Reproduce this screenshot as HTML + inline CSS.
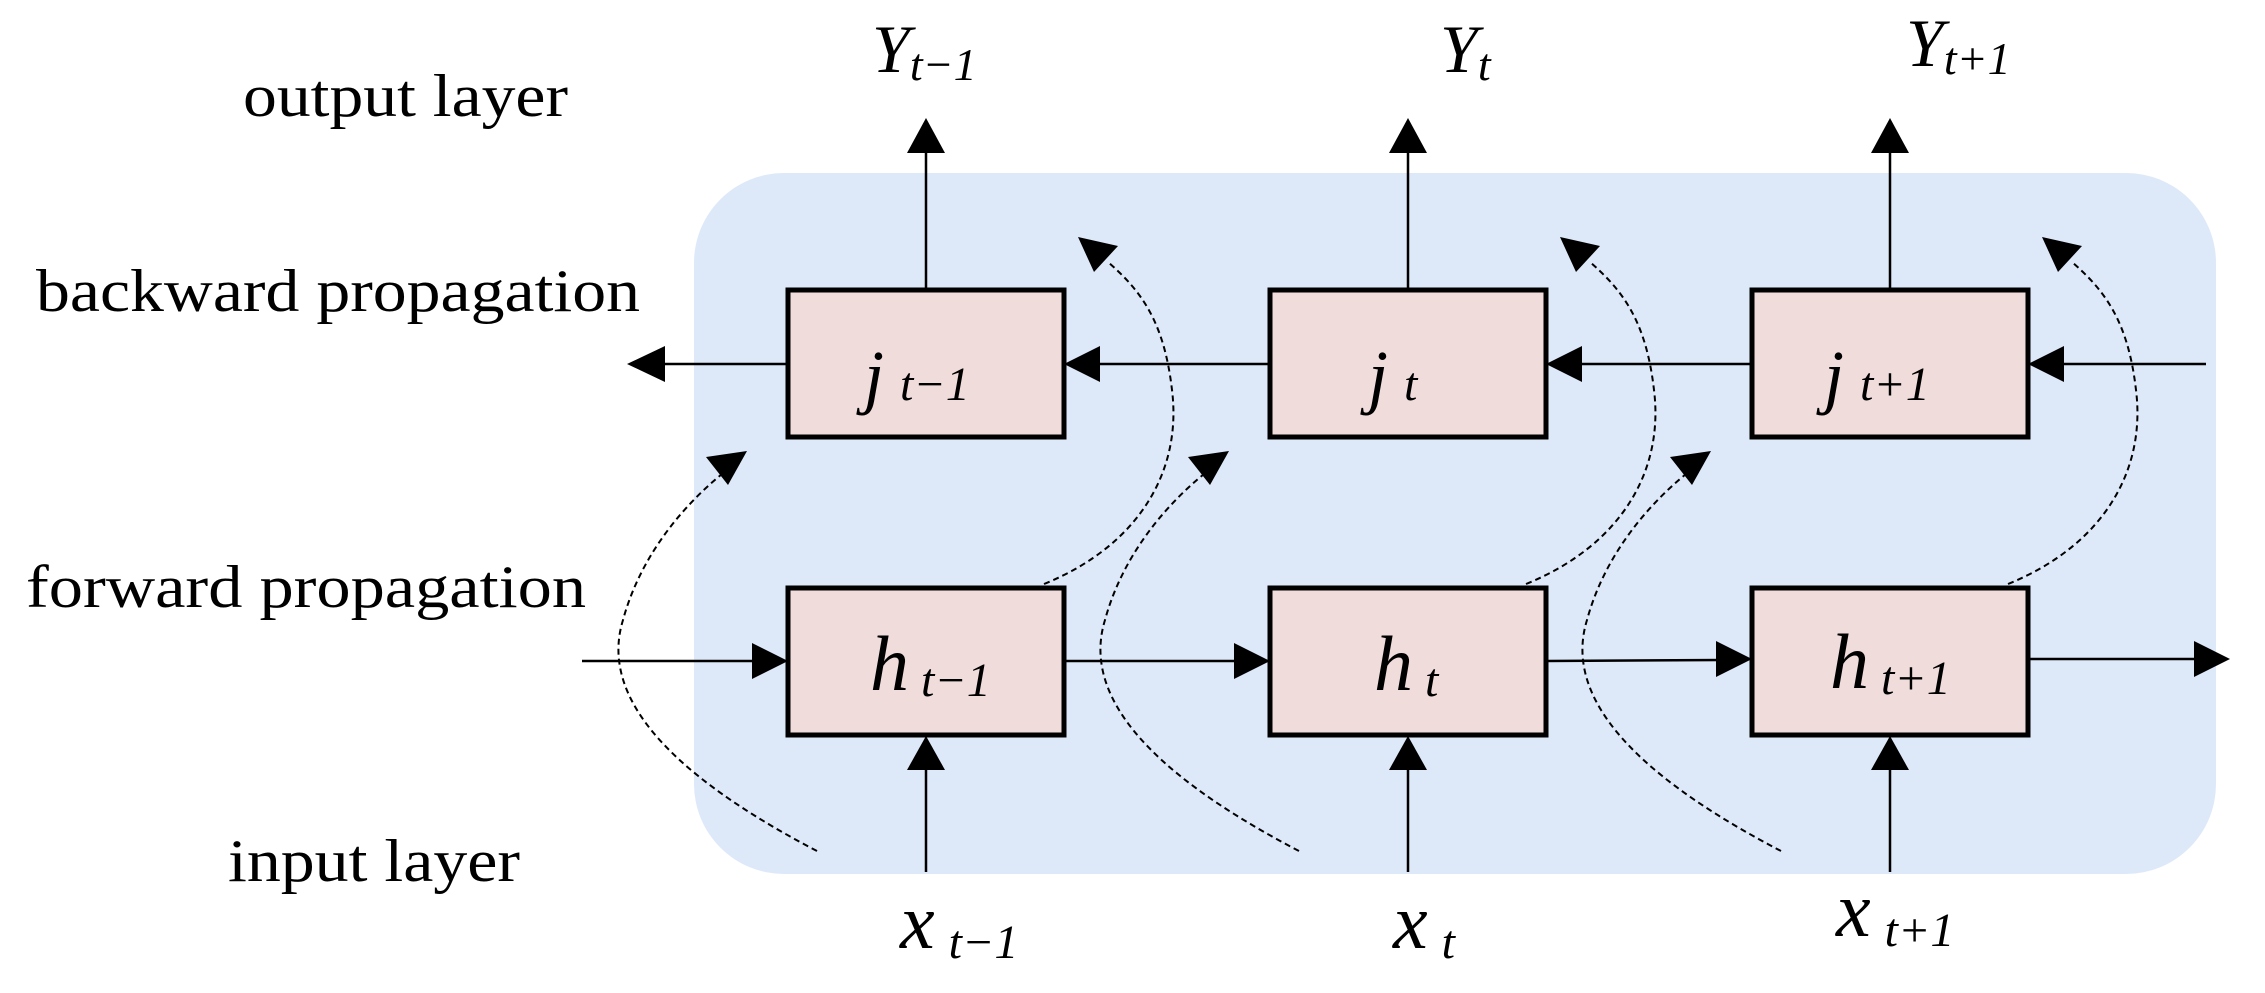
<!DOCTYPE html>
<html><head><meta charset="utf-8"><style>html,body{margin:0;padding:0;background:#fff}svg{display:block}</style></head>
<body>
<svg width="2265" height="993" viewBox="0 0 2265 993" xmlns="http://www.w3.org/2000/svg" font-family="Liberation Serif, serif">
<defs>
<g id="col">
  <rect x="788" y="290" width="276" height="147" fill="#f0dcdb" stroke="#000" stroke-width="5"/>
  <rect x="788" y="588" width="276" height="147" fill="#f0dcdb" stroke="#000" stroke-width="5"/>
  <line x1="926" y1="288" x2="926" y2="150" stroke="#000" stroke-width="2.5"/>
  <polygon points="926,118 907,153 945,153" fill="#000"/>
  <line x1="926" y1="872" x2="926" y2="765" stroke="#000" stroke-width="2.5"/>
  <polygon points="926,736 907,770 945,770" fill="#000"/>
  <path d="M817,851 C700,790 595,710 623,620 C642,550 690,500 722,474" fill="none" stroke="#000" stroke-width="2" stroke-dasharray="6,4"/>
  <polygon points="747,451 706,457 728,485" fill="#000"/>
  <path d="M1044,584 C1140,545 1182,470 1172,390 C1164,320 1140,290 1108,262" fill="none" stroke="#000" stroke-width="2" stroke-dasharray="6,4"/>
  <polygon points="1078,237 1118,246 1094,272" fill="#000"/>
</g>
</defs>
<rect x="694" y="173" width="1522" height="701" rx="90" ry="90" fill="#dde9f9"/>
<use href="#col"/>
<use href="#col" x="482"/>
<use href="#col" x="964"/>
<line x1="2206" y1="364" x2="2060" y2="364" stroke="#000" stroke-width="2.5"/>
<polygon points="2028,364 2064,346 2064,382" fill="#000"/>
<line x1="1752" y1="364" x2="1580" y2="364" stroke="#000" stroke-width="2.5"/>
<polygon points="1546,364 1582,346 1582,382" fill="#000"/>
<line x1="1270" y1="364" x2="1098" y2="364" stroke="#000" stroke-width="2.5"/>
<polygon points="1064,364 1100,346 1100,382" fill="#000"/>
<line x1="788" y1="364" x2="660" y2="364" stroke="#000" stroke-width="2.5"/>
<polygon points="627,364 665,346 665,382" fill="#000"/>
<line x1="582" y1="661" x2="760" y2="661" stroke="#000" stroke-width="2.5"/>
<polygon points="788,661 752,643 752,679" fill="#000"/>
<line x1="1064" y1="661" x2="1240" y2="661" stroke="#000" stroke-width="2.5"/>
<polygon points="1270,661 1234,643 1234,679" fill="#000"/>
<line x1="1546" y1="661" x2="1722" y2="660" stroke="#000" stroke-width="2.5"/>
<polygon points="1752,659 1716,641 1716,677" fill="#000"/>
<line x1="2028" y1="659" x2="2200" y2="659" stroke="#000" stroke-width="2.5"/>
<polygon points="2230,659 2194,641 2194,677" fill="#000"/>
<g font-size="60" fill="#000">
<text x="243" y="116" textLength="325" lengthAdjust="spacingAndGlyphs">output layer</text>
<text x="36" y="311" textLength="604" lengthAdjust="spacingAndGlyphs">backward propagation</text>
<text x="26" y="607" textLength="560" lengthAdjust="spacingAndGlyphs">forward propagation</text>
<text x="228" y="881" textLength="292" lengthAdjust="spacingAndGlyphs">input layer</text>
</g>
<g font-style="italic" fill="#000">
<text x="872" y="72" font-size="68">Y<tspan font-size="46" dy="8">t−1</tspan></text>
<text x="1440" y="72" font-size="68">Y<tspan font-size="46" dy="8">t</tspan></text>
<text x="1906" y="66" font-size="68">Y<tspan font-size="46" dy="8">t+1</tspan></text>
<text x="864" y="400" font-size="72">j<tspan font-size="48" dx="16">t−1</tspan></text>
<text x="1368" y="400" font-size="72">j<tspan font-size="48" dx="16">t</tspan></text>
<text x="1824" y="400" font-size="72">j<tspan font-size="48" dx="16">t+1</tspan></text>
<text x="870" y="690" font-size="78">h<tspan font-size="48" dx="12" dy="6">t−1</tspan></text>
<text x="1374" y="690" font-size="78">h<tspan font-size="48" dx="12" dy="6">t</tspan></text>
<text x="1830" y="688" font-size="78">h<tspan font-size="48" dx="12" dy="6">t+1</tspan></text>
<text x="900" y="948" font-size="78">x<tspan font-size="48" dx="14" dy="10">t−1</tspan></text>
<text x="1393" y="948" font-size="78">x<tspan font-size="48" dx="14" dy="10">t</tspan></text>
<text x="1836" y="936" font-size="78">x<tspan font-size="48" dx="14" dy="10">t+1</tspan></text>
</g>
</svg>
</body></html>
